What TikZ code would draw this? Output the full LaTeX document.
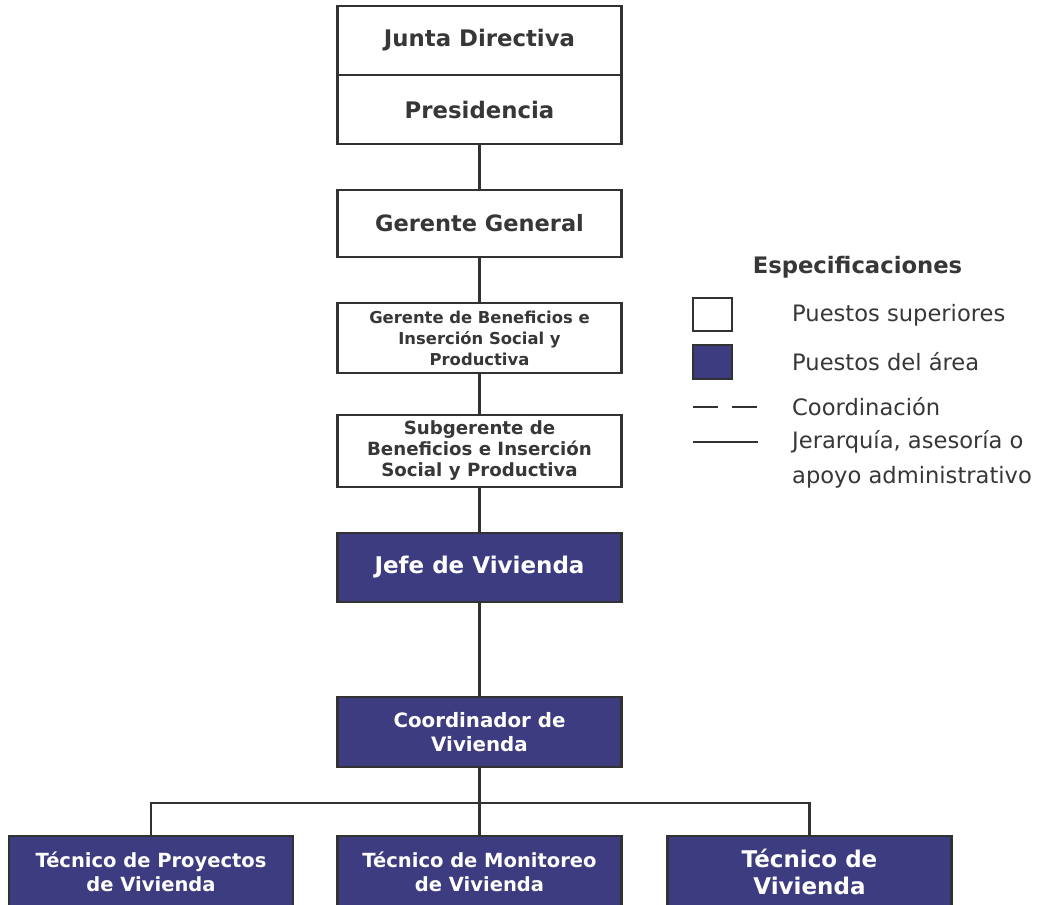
\documentclass[tikz,border=0pt]{standalone}
\usepackage{fontspec}
\setmainfont{DejaVu Sans}
\definecolor{areablue}{RGB}{62,60,128}
\definecolor{inkgray}{RGB}{55,55,55}
\definecolor{linegray}{RGB}{50,50,50}
\newcommand{\fs}[2]{\fontsize{#1}{#2}\selectfont}
\tikzset{
  whitebox/.style={draw=linegray, line width=2.8pt, fill=white, minimum width=284pt, inner sep=0pt, align=center, text=inkgray},
  bluebox/.style={draw=linegray, line width=2.8pt, fill=areablue, minimum width=284pt, inner sep=0pt, align=center, text=white},
  conn/.style={draw=linegray, line width=2.8pt},
  legtext/.style={anchor=west, text=inkgray, inner sep=0pt}
}
\begin{document}
\begin{tikzpicture}[x=1pt,y=-1pt]
\useasboundingbox[fill=white] (0,0) rectangle (1037,905);
% top column
\node[whitebox, minimum height=69pt, font={\bfseries\fs{22.8}{27}}] (junta) at (479.5,40.5) {Junta Directiva};
\node[whitebox, minimum height=69pt, font={\bfseries\fs{22.8}{27}}] (pres) at (479.5,109.5) {Presidencia};
\node[whitebox, minimum height=67pt, font={\bfseries\fs{22.5}{27}}] (gg) at (479.5,223.5) {Gerente General};
\node[whitebox, minimum height=70pt, font={\bfseries\fs{16.4}{21}}] (gb) at (479.5,338) {Gerente de Beneficios e\\Inserción Social y\\Productiva};
\node[whitebox, minimum height=72pt, font={\bfseries\fs{18.2}{21}}] (sub) at (479.5,451) {Subgerente de\\Beneficios e Inserción\\Social y Productiva};
\node[bluebox, minimum height=69pt, font={\bfseries\fs{23}{27}}] (jefe) at (479.5,567.5) {Jefe de Vivienda};
\node[bluebox, minimum height=70pt, font={\bfseries\fs{19.8}{23.5}}] (coord) at (479.5,732) {Coordinador de\\Vivienda};
\node[bluebox, minimum height=72pt, font={\bfseries\fs{19.5}{24}}] (t1) at (151,872) {Técnico de Proyectos\\de Vivienda};
\node[bluebox, minimum height=72pt, font={\bfseries\fs{19.5}{24}}] (t2) at (479.5,872) {Técnico de Monitoreo\\de Vivienda};
\node[bluebox, minimum height=72pt, font={\bfseries\fs{23}{27}}] (t3) at (809.5,872) {Técnico de\\Vivienda};
% connectors
\coordinate (bus) at (479.5,803);
\draw[conn] (pres.south) -- (gg.north);
\draw[conn] (gg.south) -- (gb.north);
\draw[conn] (gb.south) -- (sub.north);
\draw[conn] (sub.south) -- (jefe.north);
\draw[conn] (jefe.south) -- (coord.north);
\draw[conn] (coord.south) -- (t2.north);
\draw[conn] (t1.north) |- (bus) -| (t3.north);
% legend
\node[anchor=center, text=inkgray, font={\bfseries\fs{22.7}{27}}, inner sep=0pt] (legtitle) at (857.5,267) {Especificaciones};
\node[draw=linegray, line width=1.8pt, fill=white, minimum width=39pt, minimum height=33pt, inner sep=0pt] (legw) at (712.5,314.5) {};
\node[draw=linegray, line width=1.8pt, fill=areablue, minimum width=39pt, minimum height=34pt, inner sep=0pt] (legb) at (712.5,362) {};
\coordinate (dashA) at (693,407);
\coordinate (dashB) at (758,407);
\coordinate (solA) at (693,442);
\coordinate (solB) at (758,442);
\draw[draw=linegray, line width=2.8pt, dash pattern=on 25pt off 14pt] (dashA) -- (dashB);
\draw[conn] (solA) -- (solB);
\node[legtext, font={\fs{22.6}{27}}] (l1) at (792,315) {Puestos superiores};
\node[legtext, font={\fs{22.6}{27}}] (l2) at (792,362) {Puestos del área};
\node[legtext, font={\fs{22.6}{27}}] (l3) at (792,407) {Coordinación};
\node[legtext, align=left, font={\fs{22.6}{35}}] (l4) at (792,459.5) {Jerarquía, asesoría o\\apoyo administrativo};
\end{tikzpicture}
\end{document}
